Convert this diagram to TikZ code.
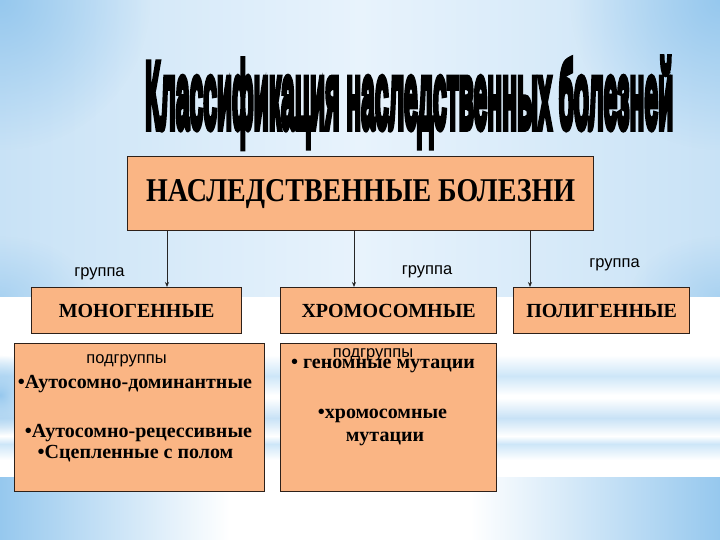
\documentclass[tikz,border=0pt]{standalone}
\usepackage{fontspec}
\setmainfont{Liberation Serif}
\newfontfamily\labelfont{Liberation Sans}
\newfontfamily\titlefont{Liberation Sans}[BoldFeatures={FakeBold=8}]
\usetikzlibrary{arrows.meta,fadings}
\tikzfading[name=softdot, inner color=transparent!0, outer color=transparent!100]
\definecolor{boxfill}{RGB}{250,181,132}
\definecolor{boxline}{RGB}{45,32,25}
\definecolor{skyA}{RGB}{150,200,238}
\definecolor{skyB}{RGB}{232,243,252}
\definecolor{skyC}{RGB}{200,226,246}
\definecolor{skyD}{RGB}{205,230,248}
\begin{document}
\begin{tikzpicture}[x=1pt,y=-1pt,
  box/.style={draw=boxline, line width=1.3pt, fill=boxfill, inner sep=0pt, anchor=north west},
  lbl/.style={font=\labelfont\fontsize{16.5}{18}\selectfont, inner sep=0pt, anchor=base},
  itm/.style={font=\bfseries\fontsize{20}{22}\selectfont, inner sep=0pt, anchor=base},
  hdr/.style={font=\bfseries\fontsize{20}{22}\selectfont},
  arr/.style={draw=black!85, line width=0.8pt, -{Stealth[length=5pt,width=4pt]}}]
% background
\useasboundingbox (0,0) rectangle (720,540);
\fill[white] (0,0) rectangle (720,540);
\shade[left color=skyC, right color=skyC, middle color=skyB] (0,0) rectangle (720,296);
\begin{scope}
  \clip (0,0) rectangle (720,296);
  \fill[skyA, path fading=softdot] (0,0) circle (150);
  \fill[skyA, path fading=softdot] (720,0) circle (150);
  \fill[skyA, path fading=softdot, opacity=0.6] (0,296) ellipse (90 and 60);
  \fill[skyA, path fading=softdot, opacity=0.6] (720,296) ellipse (90 and 60);
\end{scope}
% middle band streaks
\shade[top color=white, bottom color=skyD] (0,355) rectangle (720,376);
\shade[top color=skyD, bottom color=white] (0,376) rectangle (720,395);
\shade[top color=white, bottom color=skyC] (0,398) rectangle (720,418);
\shade[top color=skyC, bottom color=white] (0,418) rectangle (720,436);
\shade[top color=white, bottom color=skyD] (0,436) rectangle (720,444);
\shade[top color=skyD, bottom color=white] (0,444) rectangle (720,460);
\begin{scope}
  \clip (0,296) rectangle (720,477);
  \fill[skyA, path fading=softdot] (0,395) ellipse (45 and 40);
\end{scope}
% bottom band
\shade[left color=skyA, right color=white] (0,477) rectangle (230,540);
\shade[left color=white, right color=skyA] (470,477) rectangle (720,540);
% title
\node[anchor=base west, inner sep=0pt] (title) at (145,128)
  {\resizebox{528pt}{70pt}{\titlefont\bfseries Классификация наследственных болезней}};
% boxes
\node[box, minimum width=466pt, minimum height=74pt] (top) at (127,156)
  {\resizebox{429pt}{22pt}{\bfseries НАСЛЕДСТВЕННЫЕ БОЛЕЗНИ}};
\node[box, hdr, minimum width=210pt, minimum height=46pt] (mono) at (31,287) {МОНОГЕННЫЕ};
\node[box, hdr, minimum width=216pt, minimum height=46pt] (chrom) at (280,287) {ХРОМОСОМНЫЕ};
\node[box, hdr, minimum width=176pt, minimum height=46pt] (poly) at (513,287) {ПОЛИГЕННЫЕ};
\node[box, minimum width=250pt, minimum height=148pt] (sub1) at (14,343) {};
\node[box, minimum width=216pt, minimum height=148pt] (sub2) at (280,343) {};
% arrows
\coordinate (c1) at (167,0);
\coordinate (c2) at (354,0);
\coordinate (c3) at (530,0);
\draw[arr] (top.south -| c1) -- (mono.north -| c1);
\draw[arr] (top.south -| c2) -- (chrom.north -| c2);
\draw[arr] (top.south -| c3) -- (poly.north -| c3);
% group labels
\node[lbl] (g1) at (99.5,276) {группа};
\node[lbl] (g2) at (427,274) {группа};
\node[lbl] (g3) at (614.5,267) {группа};
% subgroup texts
\node[lbl] (s1) at (126.5,363) {подгруппы};
\node[itm] (s1a) at (135,388) {•Аутосомно-доминантные};
\node[itm] (s1b) at (138.5,437) {•Аутосомно-рецессивные};
\node[itm] (s1c) at (135.5,458) {•Сцепленные с полом};
\node[itm] (s2a) at (383,368) {• геномные мутации};
\node[lbl] (s2) at (373,357) {подгруппы};
\node[itm] (s2b) at (382.5,418) {•хромосомные};
\node[itm] (s2c) at (385,441.5) {мутации};
\end{tikzpicture}
\end{document}
